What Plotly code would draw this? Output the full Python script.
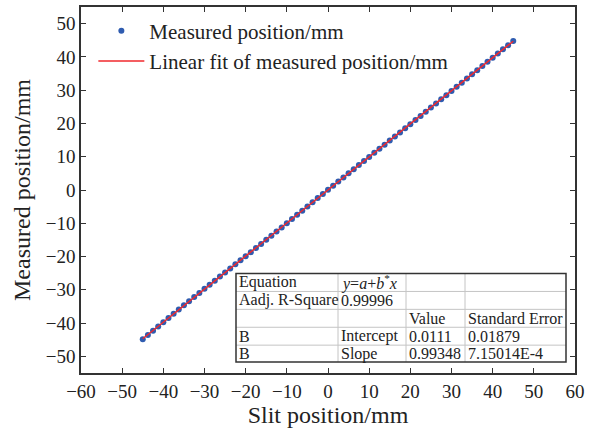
import plotly.graph_objects as go

# Slit positions (mm) and the positions measured for them (mm)
slit_position = [
    -45.0, -43.75, -42.5, -41.25, -40.0, -38.75, -37.5, -36.25, -35.0, -33.75,
    -32.5, -31.25, -30.0, -28.75, -27.5, -26.25, -25.0, -23.75, -22.5, -21.25,
    -20.0, -18.75, -17.5, -16.25, -15.0, -13.75, -12.5, -11.25, -10.0, -8.75,
    -7.5, -6.25, -5.0, -3.75, -2.5, -1.25, 0.0, 1.25, 2.5, 3.75,
    5.0, 6.25, 7.5, 8.75, 10.0, 11.25, 12.5, 13.75, 15.0, 16.25,
    17.5, 18.75, 20.0, 21.25, 22.5, 23.75, 25.0, 26.25, 27.5, 28.75,
    30.0, 31.25, 32.5, 33.75, 35.0, 36.25, 37.5, 38.75, 40.0, 41.25,
    42.5, 43.75, 45.0,
]
measured_position = [
    -44.88, -43.59, -42.30, -41.02, -39.74, -38.46, -37.19, -35.93, -34.67, -33.42,
    -32.18, -30.94, -29.70, -28.47, -27.24, -26.01, -24.79, -23.57, -22.35, -21.13,
    -19.90, -18.68, -17.45, -16.22, -14.98, -13.74, -12.49, -11.24, -9.98, -8.72,
    -7.46, -6.20, -4.94, -3.68, -2.43, -1.18, 0.07, 1.31, 2.55, 3.79,
    5.02, 6.25, 7.48, 8.71, 9.93, 11.16, 12.38, 13.61, 14.84, 16.07,
    17.30, 18.54, 19.78, 21.02, 22.26, 23.51, 24.76, 26.01, 27.26, 28.51,
    29.77, 31.02, 32.27, 33.52, 34.77, 36.02, 37.27, 38.52, 39.77, 41.02,
    42.27, 43.51, 44.76,
]

# Linear fit results y = a + b*x
intercept = 0.0111
intercept_err = 0.01879
slope = 0.99348
slope_err = 7.15014e-4
adj_r_square = 0.99996

x_ticks = [-60, -50, -40, -30, -20, -10, 0, 10, 20, 30, 40, 50, 60]
y_ticks = [-50, -40, -30, -20, -10, 0, 10, 20, 30, 40, 50]

FONT = "Liberation Serif"
INK = "#222"
W, H = 596, 433
ML, MR, MT, MB = 81, 21, 5, 60
PW, PH = W - ML - MR, H - MT - MB


def px_x(p):
    """Pixel column -> paper x."""
    return (p - ML) / PW


def px_y(p):
    """Pixel row -> paper y."""
    return (H - MB - p) / PH


fit_x = [min(slit_position), max(slit_position)]
fit_y = [intercept + slope * v for v in fit_x]

fig = go.Figure()
fig.add_trace(go.Scatter(
    x=slit_position, y=measured_position, mode="markers",
    name="Measured position/mm",
    marker=dict(color="#2f5cb0", size=6, line=dict(width=0)),
))
fig.add_trace(go.Scatter(
    x=fit_x, y=fit_y, mode="lines",
    name="Linear fit of measured position/mm",
    line=dict(color="#f0282d", width=1.5),
))

# ---- fit summary table, drawn with shapes and annotations ----
col_edges = [236, 338, 406, 465, 566]
row_edges = [273, 291, 309, 327, 345, 362]
rows = [
    ["Equation", "<i>y</i>=<i>a</i>+<i>b</i><sup>*</sup><i>x</i>", "", ""],
    ["Aadj. R-Square", f"{adj_r_square:.5f}", "", ""],
    ["", "", "Value", "Standard Error"],
    ["B", "Intercept", f"{intercept:g}", f"{intercept_err:g}"],
    ["B", "Slope", f"{slope:g}", f"{slope_err:.5E}".replace("E-04", "E-4")],
]

fig.add_shape(type="rect", xref="paper", yref="paper",
              x0=px_x(col_edges[0]), x1=px_x(col_edges[-1]),
              y0=px_y(row_edges[-1]), y1=px_y(row_edges[0]),
              fillcolor="white", line=dict(width=0), layer="above")
for cx in col_edges[1:-1]:
    fig.add_shape(type="line", xref="paper", yref="paper",
                  x0=px_x(cx), x1=px_x(cx),
                  y0=px_y(row_edges[-1]), y1=px_y(row_edges[0]),
                  line=dict(color="#c4c4c4", width=1), layer="above")
for ry in row_edges[1:-1]:
    fig.add_shape(type="line", xref="paper", yref="paper",
                  x0=px_x(col_edges[0]), x1=px_x(col_edges[-1]),
                  y0=px_y(ry), y1=px_y(ry),
                  line=dict(color="#c4c4c4", width=1), layer="above")
fig.add_shape(type="rect", xref="paper", yref="paper",
              x0=px_x(col_edges[0]), x1=px_x(col_edges[-1]),
              y0=px_y(row_edges[-1]), y1=px_y(row_edges[0]),
              line=dict(color="#333", width=1.5), layer="above")

for r, row in enumerate(rows):
    yc = (row_edges[r] + row_edges[r + 1]) / 2
    for c, txt in enumerate(row):
        if not txt:
            continue
        fig.add_annotation(
            xref="paper", yref="paper",
            x=px_x(col_edges[c] + 1), y=px_y(yc),
            xanchor="left", yanchor="middle",
            text=txt, showarrow=False,
            font=dict(family=FONT, size=16, color=INK),
        )

# y-axis title placed as a rotated annotation for exact positioning
fig.add_annotation(
    xref="paper", yref="paper", x=px_x(22), y=0.5,
    xanchor="center", yanchor="middle", textangle=-90,
    text="Measured position/mm", showarrow=False,
    font=dict(family=FONT, size=24, color=INK),
)

axis_common = dict(
    showgrid=False, zeroline=False, showline=True, linecolor="#333",
    linewidth=1.5, mirror="ticks", ticks="inside", ticklen=5, tickwidth=1,
    tickcolor="#333", tickfont=dict(family=FONT, size=19, color=INK),
)

fig.update_layout(
    width=W, height=H,
    margin=dict(l=ML, r=MR, t=MT, b=MB),
    paper_bgcolor="white", plot_bgcolor="white",
    font=dict(family=FONT, color=INK),
    xaxis=dict(range=[-60, 60], tickvals=x_ticks,
               title=dict(text="Slit position/mm", font=dict(family=FONT, size=24),
                          standoff=4),
               **axis_common),
    yaxis=dict(range=[-55, 55], tickvals=y_ticks, **axis_common),
    legend=dict(x=0.025, y=0.99, xanchor="left", yanchor="top",
                bgcolor="rgba(0,0,0,0)", font=dict(family=FONT, size=21, color=INK),
                itemwidth=46, tracegroupgap=0),
    showlegend=True,
)

fig.write_html("out.html")
